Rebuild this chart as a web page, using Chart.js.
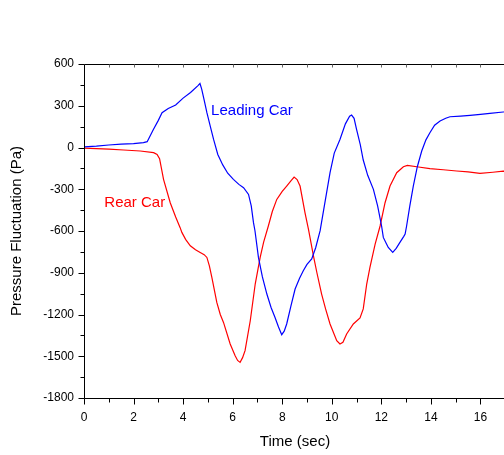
<!DOCTYPE html>
<html><head><meta charset="utf-8">
<script src="https://cdn.jsdelivr.net/npm/chart.js@4"></script>
<style>
html,body{margin:0;padding:0;overflow:hidden;background:#fff;width:504px;height:455px}
#wrap{width:560px;height:455px}
</style></head>
<body><div id="wrap"><canvas id="c" width="560" height="455"></canvas></div>
<script>
// ---- data ----
const leadTimes = [0,0.5,1.0,1.5,2.0,2.4,2.55,2.8,3.0,3.15,3.4,3.7,4.0,4.3,4.6,4.68,4.75,4.85,4.96,5.1,5.23,5.4,5.6,5.8,6.03,6.25,6.44,6.64,6.75,6.84,6.9,7.04,7.2,7.38,7.55,7.71,7.85,7.98,8.08,8.18,8.35,8.52,8.7,8.85,9.0,9.19,9.35,9.53,9.7,9.93,10.1,10.33,10.55,10.72,10.8,10.9,11.0,11.15,11.27,11.45,11.68,11.85,12.01,12.08,12.2,12.28,12.46,12.6,12.75,12.9,12.96,13.02,13.15,13.29,13.45,13.63,13.8,13.96,14.15,14.37,14.6,14.77,15.2,15.58,16.0,16.38,16.92,17.5,18];
const leadingCar = [5,10,18,24,28,35,42,130,195,250,280,305,355,395,445,460,420,340,250,150,58,-50,-125,-185,-229,-265,-289,-337,-420,-540,-598,-790,-930,-1053,-1150,-1221,-1290,-1345,-1320,-1268,-1140,-1017,-940,-885,-840,-801,-720,-598,-420,-181,-40,58,170,225,233,210,130,20,-90,-200,-301,-420,-564,-646,-690,-718,-754,-725,-682,-640,-622,-564,-420,-277,-140,-25,55,106,160,190,210,221,226,231,238,245,255,262,268];

const rearTimes = [0,0.5,1.0,1.6,2.27,2.81,2.95,3.05,3.21,3.48,3.7,3.88,3.95,4.1,4.29,4.5,4.69,4.85,4.96,5.06,5.16,5.36,5.5,5.63,5.9,6.1,6.2,6.3,6.4,6.5,6.71,6.91,7.11,7.25,7.44,7.6,7.78,8.0,8.18,8.35,8.48,8.6,8.72,8.92,9.06,9.26,9.4,9.59,9.75,9.93,10.2,10.33,10.45,10.6,10.87,11.14,11.27,11.41,11.54,11.75,11.95,12.15,12.35,12.62,12.89,13.05,13.5,13.96,14.5,15.04,15.5,15.98,16.5,16.92,17.5,18];
const rearCar = [-5,-8,-12,-18,-25,-37,-50,-80,-229,-397,-500,-576,-610,-660,-706,-735,-754,-770,-790,-850,-933,-1113,-1200,-1257,-1412,-1496,-1530,-1544,-1510,-1460,-1245,-981,-790,-680,-564,-460,-373,-315,-277,-240,-212,-230,-277,-469,-589,-778,-900,-1053,-1160,-1268,-1388,-1412,-1400,-1340,-1268,-1225,-1160,-981,-862,-694,-564,-397,-277,-181,-138,-128,-140,-152,-160,-169,-175,-186,-178,-170,-172,-175];

const seriesNames = ['Leading Car','Rear Car'];
const seriesColors = ['#0000FF','#FF0000'];
// label anchor positions (time, value) for the in-plot series labels
const labelTimes = [5.13, 0.82];
const labelValues = [261, -400];

const xTitle = 'Time (sec)';
const yTitle = 'Pressure Fluctuation (Pa)';
const xMin = 0, xMax = 18, xStep = 2, xMinor = 1;
const yMin = -1800, yMax = 600, yStep = 300, yMinor = 150;

const FONT = "'Liberation Sans', Arial, Helvetica, sans-serif";

function pts(ts, vs){ return ts.map((t,i)=>({x:t,y:vs[i]})); }

const framePlugin = {
  id:'frame',
  afterDraw(chart){
    const ctx = chart.ctx, a = chart.chartArea;
    const xs = chart.scales.x, ys = chart.scales.y;
    ctx.save();
    ctx.strokeStyle = '#000';
    ctx.lineWidth = 1;
    const L = Math.round(a.left)+0.5, R = Math.round(a.right)+0.5, T = Math.round(a.top)+0.5, B = Math.round(a.bottom)+0.5;
    ctx.beginPath();
    ctx.moveTo(L,T); ctx.lineTo(R,T); ctx.lineTo(R,B); ctx.lineTo(L,B); ctx.closePath();
    ctx.stroke();
    ctx.beginPath();
    for(let v=yMin; v<=yMax+1e-9; v+=yMinor){
      const y = Math.round(ys.getPixelForValue(v))+0.5;
      const len = (Math.abs(v % yStep) < 1e-9) ? 6 : 4;
      ctx.moveTo(L,y); ctx.lineTo(L-len,y);
    }
    for(let v=xMin; v<=xMax+1e-9; v+=xMinor){
      const x = Math.round(xs.getPixelForValue(v))+0.5;
      const len = (Math.abs(v % xStep) < 1e-9) ? 6 : 4;
      ctx.moveTo(x,B); ctx.lineTo(x,B+len);
    }
    ctx.stroke();
    ctx.strokeStyle = '#666';
    ctx.beginPath();
    for(let v=xMin+xMinor; v<xMax; v+=xMinor){
      const x = Math.round(xs.getPixelForValue(v))+0.5;
      ctx.moveTo(x,T); ctx.lineTo(x,T+3);
    }
    ctx.stroke();
    // axis titles
    ctx.fillStyle = '#000';
    ctx.font = '15px ' + FONT;
    ctx.textAlign = 'center';
    ctx.textBaseline = 'middle';
    ctx.fillText(xTitle, 295, 442);
    ctx.save();
    ctx.translate(17, (a.top+a.bottom)/2);
    ctx.rotate(-Math.PI/2);
    ctx.fillText(yTitle, 0, 0);
    ctx.restore();
    // series labels
    ctx.textAlign = 'left';
    for(let i=0;i<seriesNames.length;i++){
      ctx.fillStyle = seriesColors[i];
      ctx.fillText(seriesNames[i], xs.getPixelForValue(labelTimes[i]), ys.getPixelForValue(labelValues[i]));
    }
    ctx.restore();
  }
};

new Chart(document.getElementById('c'), {
  type:'scatter',
  data:{
    datasets:[
      {label:seriesNames[0], data:pts(leadTimes, leadingCar), showLine:true, borderColor:seriesColors[0], borderWidth:1.2, pointRadius:0, tension:0, fill:false},
      {label:seriesNames[1], data:pts(rearTimes, rearCar), showLine:true, borderColor:seriesColors[1], borderWidth:1.2, pointRadius:0, tension:0, fill:false}
    ]
  },
  options:{
    responsive:false,
    devicePixelRatio:1,
    animation:false,
    layout:{padding:{left:0, right:30, top:64, bottom:0}},
    plugins:{legend:{display:false}, tooltip:{enabled:false}},
    scales:{
      x:{
        type:'linear', min:xMin, max:xMax,
        ticks:{stepSize:xStep, color:'#000', font:{family:FONT, size:12}, padding:6, maxRotation:0, autoSkip:false, callback:v=>String(v)},
        grid:{drawOnChartArea:false, tickLength:6, color:'rgba(0,0,0,0)', tickColor:'rgba(0,0,0,0)'},
        border:{display:false},
        afterFit(s){ s.height = 57; }
      },
      y:{
        type:'linear', min:yMin, max:yMax,
        ticks:{stepSize:yStep, color:'#000', font:{family:FONT, size:12}, padding:4, autoSkip:false, callback:v=>String(v)},
        grid:{drawOnChartArea:false, tickLength:6, color:'rgba(0,0,0,0)', tickColor:'rgba(0,0,0,0)'},
        border:{display:false},
        afterFit(s){ s.width = 84; }
      }
    }
  },
  plugins:[framePlugin]
});
</script>
</body></html>
